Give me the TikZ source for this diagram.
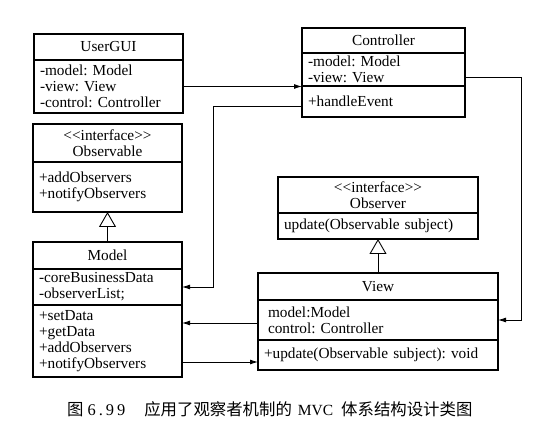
\documentclass[tikz,border=0pt]{standalone}
\usepackage{fontspec}
\setmainfont{Liberation Serif}
\newfontfamily\cjk{Noto Sans CJK SC}
\usetikzlibrary{positioning}
\usetikzlibrary{arrows.meta}
\frenchspacing
\tikzstyle{classname} = [draw, line width=1.3pt, outer sep=0pt, inner sep=2pt, align=center]
\tikzstyle{members} = [draw, line width=1.3pt, outer sep=0pt, inner xsep=6pt, inner ysep=2pt, align=left]
\tikzstyle{flow} = [draw, line width=0.9pt, -{Latex[length=8pt, width=5pt]}]
\tikzstyle{realize} = [draw, line width=0.9pt, -{Triangle[open, length=15pt, width=17pt]}]
\newcommand{\stereotype}{<{}<interface>{}>\\}

\begin{document}
\begin{tikzpicture}[x=1pt, y=-1pt, font=\fontsize{15.3}{16}\selectfont]
	\useasboundingbox (0,0) rectangle (546,435);
	
	\node[classname, minimum width=149pt, minimum height=26pt, anchor=north west] (userName) at (34,34) {UserGUI};
	\node[members, text width=137pt, minimum height=53pt, below=0pt of userName] (userAttr) {-model: Model\\-view: View\\-control: Controller};
	
	\node[classname, minimum width=149pt, minimum height=38pt, anchor=north west] (obsvblName) at (33,124) {\stereotype Observable};
	\node[members, text width=137pt, minimum height=50pt, below=0pt of obsvblName] (obsvblOps) {+addObservers\\+notifyObservers};
	
	\node[classname, minimum width=149pt, minimum height=27pt, anchor=north west] (modelName) at (33,242) {Model};
	\node[members, text width=137pt, minimum height=36pt, below=0pt of modelName] (modelAttr) {-coreBusinessData\\-observerList;};
	\node[members, text width=137pt, minimum height=72pt, below=0pt of modelAttr] (modelOps) {+setData\\+getData\\+addObservers\\+notifyObservers};
	
	\node[classname, minimum width=163pt, minimum height=25pt, anchor=north west] (ctrlName) at (302,28) {Controller};
	\node[members, text width=151pt, minimum height=33pt, below=0pt of ctrlName] (ctrlAttr) {-model: Model\\-view: View};
	\node[members, text width=151pt, minimum height=31pt, below=0pt of ctrlAttr] (ctrlOps) {+handleEvent};
	
	\node[classname, minimum width=200pt, minimum height=36pt, anchor=north west] (observerName) at (278,177) {\stereotype Observer};
	\node[members, text width=188pt, minimum height=26pt, below=0pt of observerName] (observerOps) {update(Observable subject)};
	
	\node[classname, minimum width=240pt, minimum height=27pt, anchor=north west] (viewName) at (258,273) {View};
	\node[members, text width=228pt, minimum height=40pt, below=0pt of viewName] (viewAttr) {\hspace{4pt}model:Model\\\hspace{4pt}control: Controller};
	\node[members, text width=228pt, minimum height=30pt, below=0pt of viewAttr] (viewOps) {+update(Observable subject): void};
	
	\node[anchor=west, inner sep=0pt, font=\fontsize{16.4}{17}\selectfont] (caption) at (67,409) {{\cjk 图}\hspace{4pt}6\hspace{3pt}.\hspace{3pt}9\hspace{3pt}9\hspace{19pt}{\cjk 应用了观察者机制的}\hspace{6pt}{\fontsize{15.5}{15}\selectfont MVC}\hspace{8pt}{\cjk 体系结构设计类图}};
	
	\path[realize] (modelName.north) -- (obsvblOps.south);
	\path[realize] (viewName.north) -- (observerOps.south);
	\path[flow] (userAttr.east) -- (userAttr.east -| ctrlAttr.west);
	\path[flow] ([yshift=-5pt]ctrlOps.west) -| ([xshift=31pt]modelAttr.east) -- (modelAttr.east);
	\path[flow] ([yshift=-8pt]ctrlAttr.east) -| ([xshift=23pt]viewAttr.east) -- (viewAttr.east);
	\path[flow] ([yshift=-3pt]viewAttr.west) -- ([yshift=-3pt]viewAttr.west -| modelOps.east);
	\path[flow] ([yshift=-21pt]modelOps.east) -- ([yshift=-21pt]modelOps.east -| viewOps.west);
\end{tikzpicture}
\end{document}
